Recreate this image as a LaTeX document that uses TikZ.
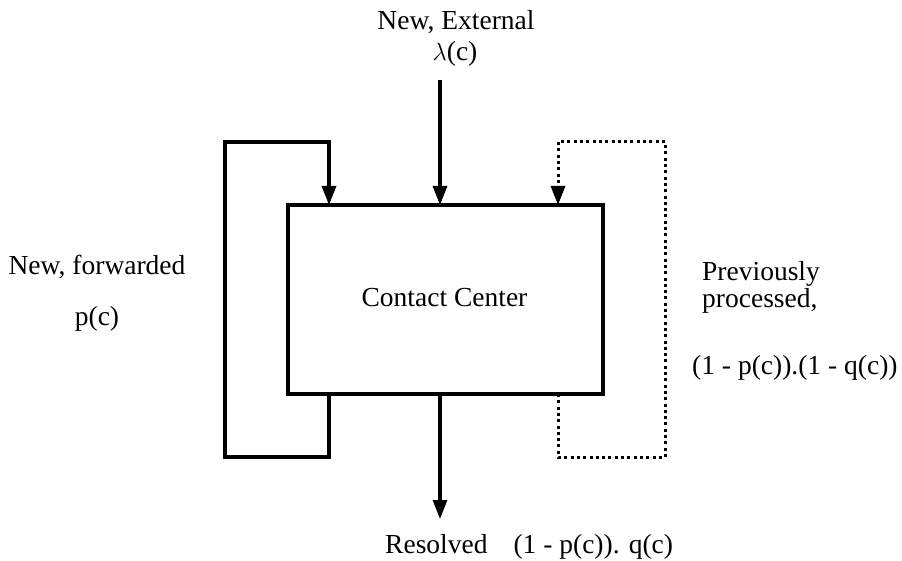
\documentclass[tikz,border=0pt]{standalone}
\usepackage{fontspec}
\setmainfont{Liberation Serif}
\usetikzlibrary{arrows.meta}

\begin{document}
\begin{tikzpicture}[x=1pt,y=-1pt,
  flow/.style={line width=3.2pt},
  loopback/.style={line width=3pt, dash pattern=on 3pt off 3.3pt},
  tip/.style={-{Triangle[length=19pt,width=14pt]}},
  lbl/.style={font=\fontsize{27.5}{30}\selectfont, inner sep=0pt},
  center/.style={draw, line width=3.2pt, minimum width=315pt, minimum height=189pt, inner sep=0pt}]
\useasboundingbox (0,0) rectangle (902,561);

% central block
\node[center] (cc) at (445.5,299.5) {};
\node[lbl,anchor=base] (cctext) at (444.5,306) {Contact Center};

% path anchors
\coordinate (ext)   at (440,80);
\coordinate (extin) at (440,205);
\coordinate (res)   at (440,519);
\coordinate (resout) at (440,394);

\coordinate (fwdout) at (329,394);
\coordinate (fwdbl)  at (225,457);
\coordinate (fwdtl)  at (225,142);
\coordinate (fwdin)  at (329,205);

\coordinate (prvout) at (558,394);
\coordinate (prvbr)  at (665,457);
\coordinate (prvtr)  at (665,142);
\coordinate (prvin)  at (558,205);

% external arrivals
\draw[flow,tip] (ext) -- (extin);
% resolved contacts
\draw[flow,tip] (resout) -- (res);
% forwarded loop
\draw[flow,tip,line join=miter] (fwdout) |- (fwdbl) |- (fwdtl -| fwdin) -- (fwdin);
% previously processed loop (dotted)
\draw[loopback,tip] (prvout) |- (prvbr) -- (prvtr) -| (prvin);

% labels
\node[lbl,anchor=base] (lnew) at (456,30) {New, External};
\node[lbl,anchor=base] (llam) at (455,61) {$\lambda$(c)};
\node[lbl,anchor=base] (lfwd) at (97,275) {New, forwarded};
\node[lbl,anchor=base] (lp)   at (97,325) {p(c)};
\node[lbl,anchor=base west] (lprev) at (702,281) {Previously};
\node[lbl,anchor=base west] (lproc) at (702,308) {processed,};
\node[lbl,anchor=base west] (lpq)   at (692,374) {(1 - p(c)).(1 - q(c))};
\node[lbl,anchor=base west] (lres)  at (385,553) {Resolved\hspace{26pt}(1 - p(c)). q(c)};
\end{tikzpicture}
\end{document}
